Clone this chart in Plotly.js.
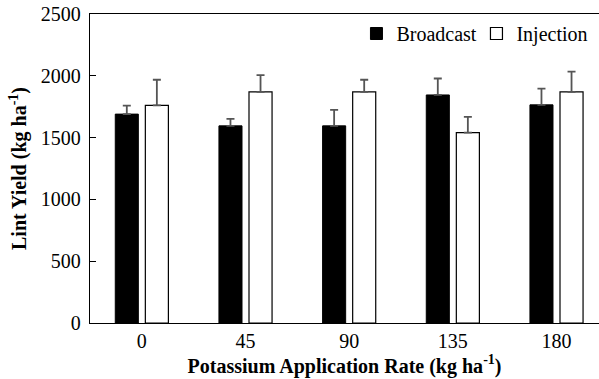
<!DOCTYPE html>
<html>
<head>
<meta charset="utf-8">
<script src="https://cdn.plot.ly/plotly-3.0.1.min.js"></script>
<style>html,body{margin:0;padding:0;background:#fff;}#chart{width:599px;height:379px;}</style>
</head>
<body>
<div id="chart"></div>
<script>
var categories = ['0', '45', '90', '135', '180'];
var broadcast = [1690, 1595, 1595, 1845, 1765];
var broadcastErr = [68, 57, 130, 133, 132];
var injection = [1760, 1870, 1870, 1540, 1870];
var injectionErr = [208, 136, 98, 127, 163];
var yTicks = [0, 500, 1000, 1500, 2000, 2500];

var fontFamily = '"Liberation Serif", "Times New Roman", serif';
var errStyle = {type: 'data', symmetric: false, arrayminus: [0,0,0,0,0], color: '#555555', thickness: 1.8, width: 4};

var traces = [
  {type: 'bar', name: 'Broadcast', x: categories, y: broadcast,
   marker: {color: '#000000', line: {color: '#000000', width: 1}},
   error_y: Object.assign({array: broadcastErr}, errStyle)},
  {type: 'bar', name: 'Injection', x: categories, y: injection,
   marker: {color: '#ffffff', line: {color: '#000000', width: 1.2}},
   error_y: Object.assign({array: injectionErr}, errStyle)}
];

var layout = {
  width: 599, height: 379,
  margin: {l: 90, r: 0, t: 14, b: 56},
  paper_bgcolor: '#ffffff', plot_bgcolor: '#ffffff',
  font: {family: fontFamily, size: 20, color: '#000000'},
  barmode: 'group', bargap: 0.42, bargroupgap: 0.233,
  showlegend: true,
  legend: {orientation: 'h', x: 0.995, xanchor: 'right', y: 1, yanchor: 'top',
           entrywidth: 75, bgcolor: 'rgba(0,0,0,0)',
           font: {family: fontFamily, size: 20, color: '#000'},
           traceorder: 'normal'},
  xaxis: {
    type: 'category', range: [-0.5, 4.41],
    showline: true, linecolor: '#000', linewidth: 1.3, mirror: true,
    ticks: '', showgrid: false, zeroline: false,
    tickfont: {family: fontFamily, size: 20, color: '#000'},
    title: {text: '<b>Potassium Application Rate (kg ha<sup>-1</sup>)</b>',
            font: {family: fontFamily, size: 20, color: '#000'}, standoff: 3}
  },
  yaxis: {
    range: [0, 2500], tickvals: yTicks, ticktext: yTicks.map(String),
    showline: true, linecolor: '#000', linewidth: 1.3, mirror: false,
    ticks: 'inside', ticklen: 6, tickwidth: 1.3, tickcolor: '#000',
    ticklabelstandoff: 4,
    showgrid: false, zeroline: false,
    tickfont: {family: fontFamily, size: 20, color: '#000'},
    title: {text: '<b>Lint Yield (kg ha<sup>-1</sup>)</b>',
            font: {family: fontFamily, size: 20, color: '#000'}, standoff: 8}
  }
};

Plotly.newPlot('chart', traces, layout, {displayModeBar: false, staticPlot: true});
</script>
</body>
</html>
